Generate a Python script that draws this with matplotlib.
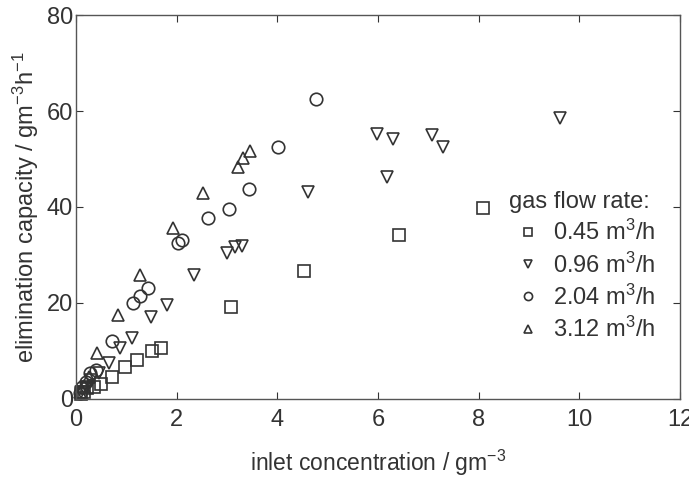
import matplotlib
matplotlib.use('Agg')
import matplotlib.pyplot as plt

plt.rcParams['font.family'] = ['Liberation Sans', 'DejaVu Sans']
plt.rcParams['mathtext.fontset'] = 'custom'
plt.rcParams['mathtext.rm'] = 'Liberation Sans'
plt.rcParams['mathtext.it'] = 'Liberation Sans'
plt.rcParams['mathtext.default'] = 'regular'

# inlet concentration (g/m3) vs elimination capacity (g/m3/h), one set per flow rate
sq_x = [0.1, 0.15, 0.22, 0.35, 0.5, 0.72, 0.97, 1.22, 1.5, 1.68, 3.08, 4.53, 6.42, 8.09]
sq_y = [1.0, 1.5, 2.2, 2.5, 3.1, 4.5, 6.7, 8.1, 10.1, 10.6, 19.2, 26.7, 34.2, 39.8]

tdn_x = [0.1, 0.2, 0.3, 0.45, 0.65, 0.88, 1.12, 1.49, 1.81, 2.35, 3.0, 3.16, 3.30,
         4.61, 5.98, 6.18, 6.30, 7.07, 7.29, 9.62]
tdn_y = [1.5, 2.5, 4.0, 5.5, 7.6, 10.7, 12.7, 17.1, 19.6, 25.8, 30.4, 31.7, 31.8,
         43.1, 55.2, 46.3, 54.2, 55.1, 52.4, 58.5]

circ_x = [0.08, 0.12, 0.2, 0.28, 0.4, 0.72, 1.13, 1.27, 1.43, 2.03, 2.1, 2.62, 3.04,
          3.44, 4.01, 4.77]
circ_y = [1.2, 2.5, 3.5, 5.5, 6.0, 12.0, 20.0, 21.5, 23.2, 32.4, 33.1, 37.7, 39.6,
          43.7, 52.4, 62.4]

tup_x = [0.08, 0.15, 0.25, 0.42, 0.83, 1.27, 1.93, 2.52, 3.22, 3.32, 3.46]
tup_y = [1.5, 2.8, 4.5, 9.6, 17.5, 25.8, 35.6, 42.9, 48.3, 50.2, 51.6]

labels = ['0.45 m$^3$/h', '0.96 m$^3$/h', '2.04 m$^3$/h', '3.12 m$^3$/h']
xticks = [0, 2, 4, 6, 8, 10, 12]
yticks = [0, 20, 40, 60, 80]

ink = '#333333'
fs = 17

fig = plt.figure(figsize=(6.89, 4.78), dpi=100)
ax = fig.add_axes([0.1103, 0.1653, 0.8767, 0.8033])

series = [(sq_x, sq_y, 's'), (tdn_x, tdn_y, 'v'), (circ_x, circ_y, 'o'), (tup_x, tup_y, '^')]
for (x, y, m), lab in zip(series, labels):
    ax.plot(x, y, linestyle='none', marker=m, markersize=9, markerfacecolor='none',
            markeredgecolor=ink, markeredgewidth=1.2, label=lab, clip_on=False)

ax.set_xlim(0, 12)
ax.set_ylim(0, 80)
ax.set_xticks(xticks)
ax.set_yticks(yticks)
ax.tick_params(direction='in', top=True, right=True, labelsize=fs, colors=ink,
               length=5)
ax.tick_params(axis='x', pad=7)
ax.tick_params(axis='y', pad=2)
for s in ax.spines.values():
    s.set_color('#555555')
    s.set_linewidth(1.0)

ax.set_xlabel('inlet concentration / gm$^{-3}$', fontsize=16.5, color=ink, labelpad=12)
ax.set_ylabel('elimination capacity / gm$^{-3}$h$^{-1}$', fontsize=17, color=ink,
              labelpad=4)

leg = ax.legend(loc='upper left', bbox_to_anchor=(0.69, 0.585), frameon=False,
                title='gas flow rate:', fontsize=fs, title_fontsize=fs,
                markerscale=0.65, handlelength=1.6, handletextpad=0.25,
                labelspacing=0.3, alignment='left', borderpad=0.2)
for t in leg.get_texts():
    t.set_color(ink)
leg.get_title().set_color(ink)

fig.savefig('out.png', dpi=100)
